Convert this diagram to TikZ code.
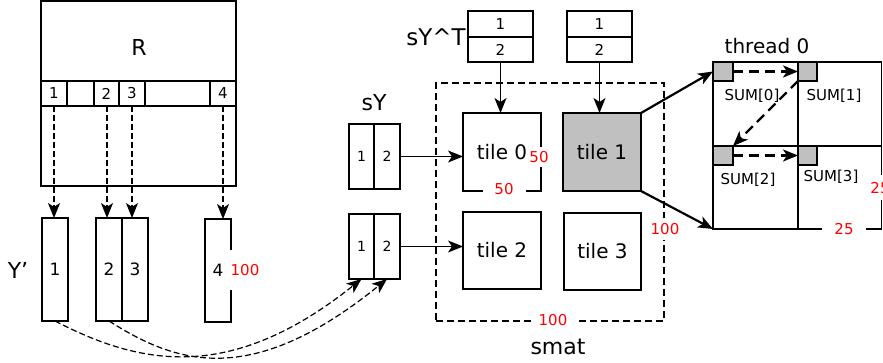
\documentclass[tikz,border=0pt]{standalone}
\usepackage{fontspec}
\setmainfont{DejaVu Sans}
\usetikzlibrary{arrows.meta}
\definecolor{tilegray}{HTML}{C0C0C0}
\newcommand{\fsz}[1]{\fontsize{#1}{#1}\selectfont}
\begin{document}
\begin{tikzpicture}[x=1pt,y=-1pt,
  box/.style={draw, line width=1.3pt, inner sep=0pt, outer sep=0pt},
  rlab/.style={text=red, font=\fsz{15}, fill=white, inner sep=0pt},
  arr/.style={-{Stealth[length=15pt,width=12pt,inset=4pt]}, line width=1.2pt},
  darr/.style={arr, dash pattern=on 6pt off 3pt},
  tarr/.style={-{Stealth[length=15pt,width=12pt,inset=4pt]}, line width=2.2pt},
  tdarr/.style={tarr, dash pattern=on 10pt off 6pt},
  lbl/.style={inner sep=0pt, font=\fsz{22}},
  num/.style={font=\fsz{15}},
  sumlbl/.style={inner sep=0pt, font=\fsz{15}}
]
\useasboundingbox (0,0) rectangle (883,363);

% ---- R matrix ----
\node[box, minimum width=195pt, minimum height=185pt] (Rbox) at (138.5,93.5) {};
\node[lbl] (Rl) at (139,47) {R};
\node[box, num, minimum width=26pt, minimum height=25pt] (c1) at (54,93.5) {1};
\node[box, minimum width=27pt, minimum height=25pt] (e1) at (80.5,93.5) {};
\node[box, num, minimum width=25pt, minimum height=25pt] (c2) at (106.5,93.5) {2};
\node[box, num, minimum width=26pt, minimum height=25pt] (c3) at (132,93.5) {3};
\node[box, minimum width=65pt, minimum height=25pt] (e2) at (177.5,93.5) {};
\node[box, num, minimum width=26pt, minimum height=25pt] (c4) at (223,93.5) {4};

% ---- Y' ----
\node[lbl] (Yp) at (18,270) {Y'};
\node[box, font=\fsz{17}, minimum width=26pt, minimum height=103pt] (y1) at (55,269.5) {1};
\node[box, font=\fsz{17}, minimum width=26pt, minimum height=103pt] (y2) at (109,269.5) {2};
\node[box, font=\fsz{17}, minimum width=26pt, minimum height=103pt] (y3) at (135,269.5) {3};
\node[box, font=\fsz{17}, minimum width=26pt, minimum height=103pt] (y4) at (218,270.5) {4};
\node[rlab, minimum width=32pt, minimum height=39pt] (l100a) at (245,270) {100};

\draw[darr] (c1.south) -- (c1.south |- y1.north);
\draw[darr] ([xshift=0.5pt]c2.south) -- ([xshift=0.5pt]c2.south |- y2.north);
\draw[darr] (c3.south) -- (c3.south |- y3.north);
\draw[darr] (c4.south) -- (c4.south |- y4.north);

% ---- sY ----
\node[lbl] (sYl) at (374,103) {sY};
\node[box, font=\fsz{14}, minimum width=25pt, minimum height=65pt] (sYa1) at (361.5,156.5) {1};
\node[box, font=\fsz{14}, minimum width=26pt, minimum height=65pt] (sYa2) at (387,156.5) {2};
\node[box, font=\fsz{14}, minimum width=25pt, minimum height=65pt] (sYb1) at (361.5,246.5) {1};
\node[box, font=\fsz{14}, minimum width=26pt, minimum height=65pt] (sYb2) at (387,246.5) {2};

\draw[darr] (y1.south) .. controls (140,365) and (230,384) .. (sYb1.south);
\draw[darr] (y2.south) .. controls (175,363) and (250,390) .. (sYb2.south);

% ---- sY^T ----
\node[lbl, font=\fsz{23}] (sTl) at (436,37) {sY\textasciicircum T};
\node[box, num, minimum width=65pt, minimum height=26pt] (sT1a) at (500.5,24) {1};
\node[box, num, minimum width=65pt, minimum height=25pt] (sT1b) at (500.5,49.5) {2};
\node[box, num, minimum width=65pt, minimum height=26pt] (sT2a) at (599.5,24) {1};
\node[box, num, minimum width=65pt, minimum height=25pt] (sT2b) at (599.5,49.5) {2};

% ---- smat ----
\node[box, dash pattern=on 7pt off 4pt, minimum width=228pt, minimum height=238pt] (smat) at (550,202) {};
\node[lbl, font=\fsz{22}] (smatl) at (558,347) {smat};
\node[rlab, minimum width=45pt, minimum height=14pt] (l100b) at (553,320) {100};
\node[rlab, minimum width=30pt, minimum height=22pt] (l100c) at (665,229) {100};

\node[box, font=\fsz{20}, minimum width=78pt, minimum height=78pt] (tile0) at (502,152) {tile 0};
\node[box, font=\fsz{20}, fill=tilegray, minimum width=78pt, minimum height=78pt] (tile1) at (602,152) {tile 1};
\node[box, font=\fsz{20}, minimum width=78pt, minimum height=77pt] (tile2) at (502,250.5) {tile 2};
\node[box, font=\fsz{20}, minimum width=77pt, minimum height=77pt] (tile3) at (602.5,251.5) {tile 3};
\node[rlab, minimum width=19pt, minimum height=20pt] (l50a) at (539,157) {50};
\node[rlab, minimum width=43pt, minimum height=14pt] (l50b) at (504,189) {50};

\draw[arr] (sYa2.east) -- (sYa2.east -| tile0.west);
\draw[arr] (sYb2.east) -- (sYb2.east -| tile2.west);
\draw[arr] (sT1b.south) -- (sT1b.south |- tile0.north);
\draw[arr] (sT2b.south) -- (sT2b.south |- tile1.north);

% ---- thread 0 ----
\node[lbl, font=\fsz{20}] (thr) at (767,46) {thread 0};
\node[box, minimum width=85pt, minimum height=84pt] (g0) at (755.5,104) {};
\node[box, minimum width=83.5pt, minimum height=84pt] (g1) at (839.75,104) {};
\node[box, minimum width=85pt, minimum height=83pt] (g2) at (755.5,187.5) {};
\node[box, minimum width=83.5pt, minimum height=83pt] (g3) at (839.75,187.5) {};
\node[box, fill=tilegray, anchor=north west, minimum width=20pt, minimum height=19pt] (s0) at (g0.north west) {};
\node[box, fill=tilegray, anchor=north west, minimum width=19pt, minimum height=19pt] (s1) at (g1.north west) {};
\node[box, fill=tilegray, anchor=north west, minimum width=20pt, minimum height=19pt] (s2) at (g2.north west) {};
\node[box, fill=tilegray, anchor=north west, minimum width=19pt, minimum height=19pt] (s3) at (g3.north west) {};
\node[sumlbl] (sum0) at (752,96) {SUM[0]};
\node[sumlbl] (sum1) at (834,96) {SUM[1]};
\node[sumlbl] (sum2) at (748,180) {SUM[2]};
\node[sumlbl] (sum3) at (831,177) {SUM[3]};
\node[rlab, minimum width=19pt, minimum height=25pt] (l25a) at (880,188) {25};
\node[rlab, minimum width=44pt, minimum height=14pt] (l25b) at (844,229) {25};

\draw[tdarr] (s0.east) -- (s1.west);
\draw[tdarr] (s1.south west) -- (s2.north east);
\draw[tdarr] (s2.east) -- (s3.west);

\draw[tarr] (tile1.north east) -- (s0.west);
\draw[tarr] (tile1.south east) -- (g2.south west);
\end{tikzpicture}
\end{document}
